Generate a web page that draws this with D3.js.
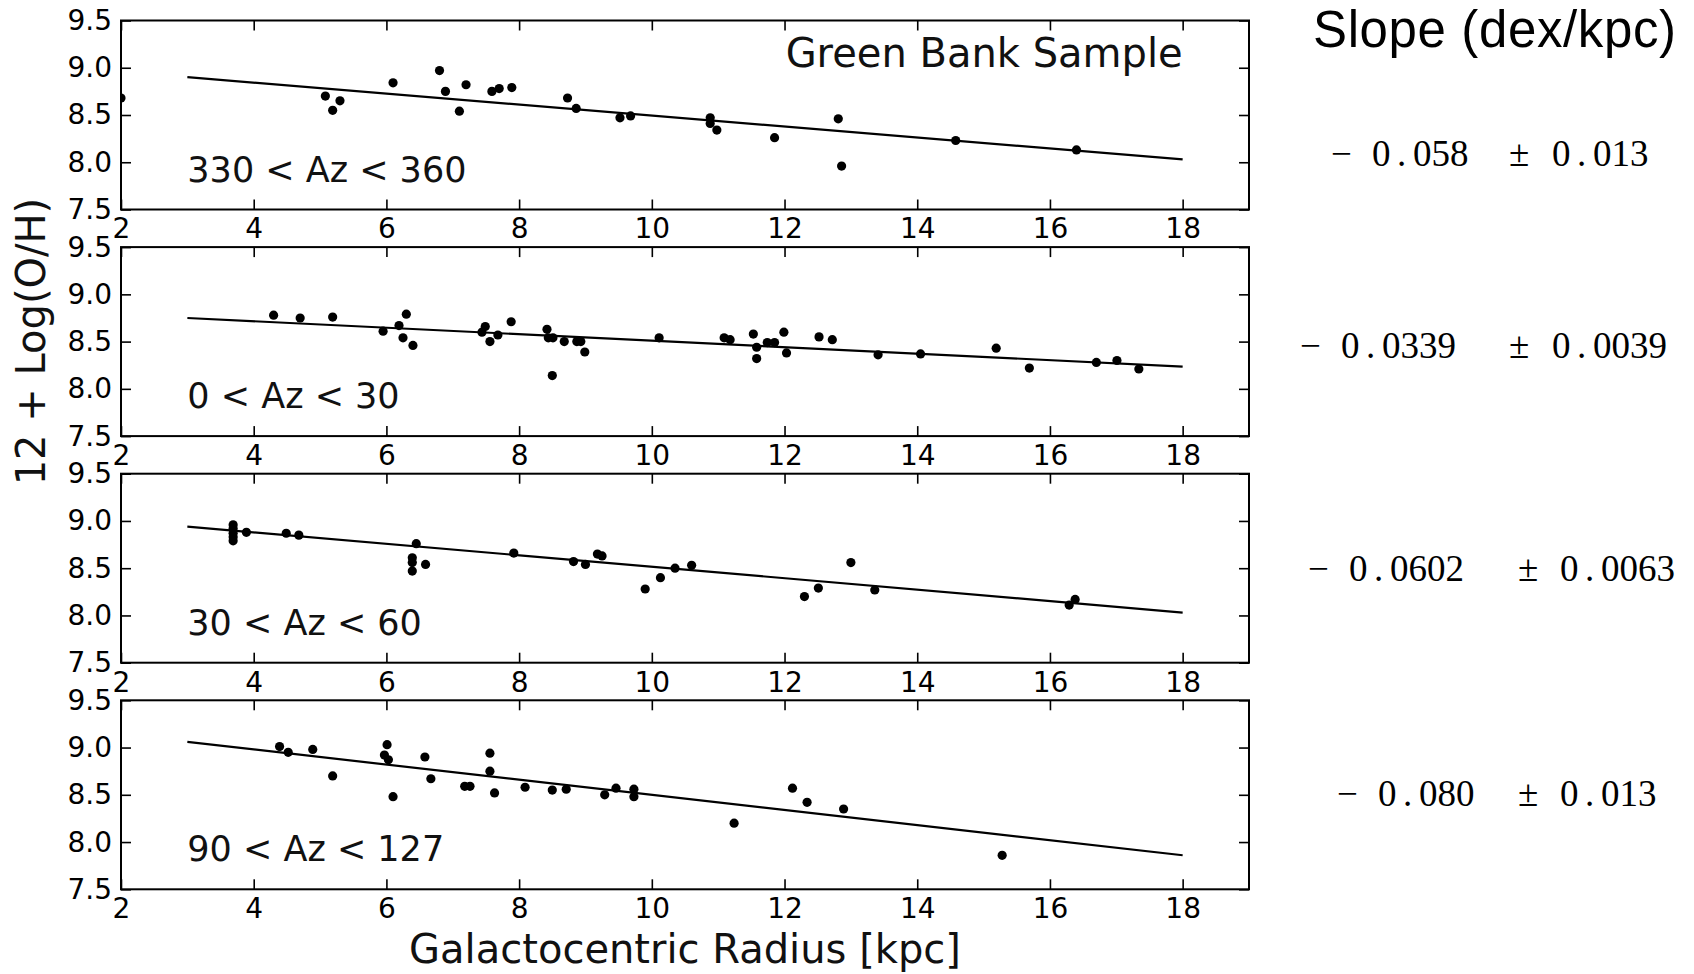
<!DOCTYPE html>
<html>
<head>
<meta charset="utf-8">
<script src="https://cdn.jsdelivr.net/npm/d3@7"></script>
<style>
  html, body { margin: 0; padding: 0; background: #fff; }
  svg { display: block; }
  .tick text { font-family: "DejaVu Sans", sans-serif; }
</style>
</head>
<body>
<script>
// ---------------- DATA ----------------
const xTicks = [2, 4, 6, 8, 10, 12, 14, 16, 18];
const yTicks = [7.5, 8.0, 8.5, 9.0, 9.5];
const panelLabels = ["330 < Az < 360", "0 < Az < 30", "30 < Az < 60", "90 < Az < 127"];
const sampleTitle = "Green Bank Sample";
const xTitle = "Galactocentric Radius [kpc]";
const yTitle = "12 + Log(O/H)";
const slopeTitle = "Slope (dex/kpc)";
const slopeVals = ["0.058", "0.0339", "0.0602", "0.080"];
const slopeErrs = ["0.013", "0.0039", "0.0063", "0.013"];

// Fit lines (endpoints in R, 12+log(O/H))
const fitR = [3, 18];
const fitAz330 = [8.90, 8.03];
const fitAz0 = [8.75, 8.235];
const fitAz30 = [8.94, 8.03];
const fitAz90 = [9.06, 7.86];

// Panel 1: 330 < Az < 360
const az330R  = [2.0, 5.08, 5.19, 5.30, 6.10, 6.80, 6.89, 7.10, 7.20, 7.59, 7.70, 7.89, 8.73, 8.86, 9.52, 9.68,
                 10.88, 10.88, 10.98, 11.85, 12.81, 12.86, 14.58, 16.40];
const az330OH = [8.68, 8.70, 8.55, 8.65, 8.84, 8.97, 8.75, 8.54, 8.82, 8.75, 8.78, 8.79, 8.68, 8.57, 8.47, 8.49,
                 8.47, 8.41, 8.34, 8.26, 8.46, 7.96, 8.23, 8.13];

// Panel 2: 0 < Az < 30
const az0R  = [4.30, 4.70, 5.19, 5.95, 6.19, 6.30, 6.25, 6.40, 7.44, 7.49, 7.56, 7.68, 7.88, 8.42, 8.44, 8.51,
               8.50, 8.68, 8.87, 8.93, 8.99, 10.11, 11.09, 11.18, 11.53, 11.58, 11.58, 11.74, 11.85, 11.99,
               12.03, 12.52, 12.72, 13.41, 14.05, 15.19, 15.69, 16.70, 17.01, 17.34];
const az0OH = [8.78, 8.75, 8.76, 8.61, 8.67, 8.79, 8.54, 8.46, 8.60, 8.66, 8.50, 8.57, 8.71, 8.63, 8.54, 8.54,
               8.14, 8.50, 8.50, 8.50, 8.39, 8.54, 8.54, 8.52, 8.58, 8.44, 8.32, 8.49, 8.49, 8.60,
               8.38, 8.55, 8.52, 8.36, 8.37, 8.43, 8.22, 8.28, 8.30, 8.21];

// Panel 3: 30 < Az < 60
const az30R  = [3.69, 3.69, 3.69, 3.69, 3.69, 3.89, 4.49, 4.68, 6.45, 6.39, 6.39, 6.39, 6.59, 7.92, 8.82, 9.00,
                9.18, 9.25, 9.90, 10.13, 10.35, 10.60, 12.30, 12.51, 13.00, 13.36, 16.29, 16.38];
const az30OH = [8.96, 8.92, 8.87, 8.83, 8.79, 8.88, 8.87, 8.85, 8.76, 8.61, 8.56, 8.47, 8.54, 8.66, 8.57, 8.54,
                8.65, 8.63, 8.28, 8.40, 8.50, 8.53, 8.20, 8.29, 8.56, 8.27, 8.11, 8.17];

// Panel 4: 90 < Az < 127
const az90R  = [4.39, 4.52, 4.89, 5.19, 6.01, 5.97, 6.03, 6.10, 6.58, 6.67, 7.18, 7.26, 7.56, 7.56, 7.63, 8.09,
                8.50, 8.71, 9.29, 9.46, 9.73, 9.73, 11.24, 12.12, 12.34, 12.89, 15.28];
const az90OH = [9.01, 8.95, 8.98, 8.70, 9.03, 8.92, 8.87, 8.48, 8.90, 8.67, 8.59, 8.59, 8.94, 8.75, 8.52, 8.58,
                8.55, 8.56, 8.50, 8.57, 8.56, 8.48, 8.20, 8.57, 8.42, 8.35, 7.86];

const panelR = [az330R, az0R, az30R, az90R];
const panelOH = [az330OH, az0OH, az30OH, az90OH];
const panelFit = [fitAz330, fitAz0, fitAz30, fitAz90];

// ---------------- LAYOUT ----------------
const W = 1694, H = 974;
const plotLeft = 121, plotRight = 1249;
const panelTop0 = 20.5, panelPitch = 226.6, panelH = 189;
const tickLen = 10;

const svg = d3.select("body").append("svg")
  .attr("width", W).attr("height", H)
  .attr("viewBox", `0 0 ${W} ${H}`);

svg.append("rect").attr("width", W).attr("height", H).attr("fill", "#fff");

const x = d3.scaleLinear().domain([2, 19]).range([plotLeft, plotRight]);

for (let i = 0; i < 4; i++) {
  const top = panelTop0 + i * panelPitch;
  const bottom = top + panelH;
  const y = d3.scaleLinear().domain([7.5, 9.5]).range([bottom, top]);
  const g = svg.append("g");

  const clipId = "clip" + i;
  svg.append("clipPath").attr("id", clipId)
    .append("rect")
    .attr("x", x(2)).attr("y", y(9.5))
    .attr("width", x(19) - x(2)).attr("height", y(7.5) - y(9.5));

  // fit line
  const lineData = fitR.map((r, k) => [r, panelFit[i][k]]);
  g.append("path")
    .datum(lineData)
    .attr("d", d3.line().x(d => x(d[0])).y(d => y(d[1])))
    .attr("fill", "none").attr("stroke", "#000").attr("stroke-width", 2.2);

  // points
  const pts = panelR[i].map((r, k) => ({ r: r, oh: panelOH[i][k] }));
  g.append("g").attr("clip-path", `url(#${clipId})`)
    .selectAll("circle").data(pts).join("circle")
    .attr("cx", d => x(d.r)).attr("cy", d => y(d.oh))
    .attr("r", 4.6).attr("fill", "#000");

  // axes
  const axB = g.append("g").attr("transform", `translate(0,${bottom})`)
    .call(d3.axisBottom(x).tickValues(xTicks).tickSize(-tickLen).tickPadding(9)
      .tickFormat(d3.format("d")));
  const axT = g.append("g").attr("transform", `translate(0,${top})`)
    .call(d3.axisTop(x).tickValues(xTicks).tickSize(-tickLen).tickFormat(""));
  const axL = g.append("g").attr("transform", `translate(${plotLeft},0)`)
    .call(d3.axisLeft(y).tickValues(yTicks).tickSize(-tickLen).tickPadding(9)
      .tickFormat(d3.format(".1f")));
  const axR = g.append("g").attr("transform", `translate(${plotRight},0)`)
    .call(d3.axisRight(y).tickValues(yTicks).tickSize(-tickLen).tickFormat(""));

  [axB, axT, axL, axR].forEach(a => {
    a.select(".domain").remove();
    a.selectAll(".tick line").attr("stroke", "#000").attr("stroke-width", 1.6);
    a.selectAll(".tick text").attr("fill", "#000").attr("font-size", 28)
      .attr("font-family", "DejaVu Sans");
  });

  // frame
  g.append("rect")
    .attr("x", x(2)).attr("y", y(9.5))
    .attr("width", x(19) - x(2)).attr("height", y(7.5) - y(9.5))
    .attr("fill", "none").attr("stroke", "#000").attr("stroke-width", 2);

  // panel label
  g.append("text")
    .attr("x", x(3.0)).attr("y", bottom - 28)
    .attr("font-family", "DejaVu Sans").attr("font-size", 35).attr("fill", "#111")
    .text(panelLabels[i]);

  if (i === 0) {
    g.append("text")
      .attr("x", x(18)).attr("y", top + 46.5)
      .attr("text-anchor", "end")
      .attr("font-family", "DejaVu Sans").attr("font-size", 40).attr("fill", "#111")
      .text(sampleTitle);
  }

  if (i === 1) {
    svg.append("text")
      .attr("transform", `translate(45,${(top + bottom) / 2}) rotate(-90)`)
      .attr("text-anchor", "middle")
      .attr("font-family", "DejaVu Sans").attr("font-size", 40).attr("fill", "#111")
      .text(yTitle);
  }

  // slope text (right column)
  const rowBase = [166, 358, 581, 806][i];
  const minusX = [1331, 1300, 1308, 1337][i];
  const valX = [1372, 1341, 1349, 1378][i];
  const pmX = [1509, 1509, 1518, 1518][i];
  const errX = [1552, 1552, 1560, 1560][i];
  const st = svg.append("text")
    .attr("y", rowBase)
    .attr("font-family", "'Liberation Serif', 'Times New Roman', Times, serif")
    .attr("font-size", 37).attr("fill", "#000");
  const splitNum = s => { const p = s.split("."); return [p[0], ".", p[1]]; };
  const v = splitNum(slopeVals[i]);
  const e = splitNum(slopeErrs[i]);
  st.append("tspan").attr("x", minusX).text("\u2212");
  st.append("tspan").attr("x", valX).text(v[0]);
  st.append("tspan").attr("x", valX + 25).text(v[1]);
  st.append("tspan").attr("x", valX + 41).text(v[2]);
  st.append("tspan").attr("x", pmX).text("\u00b1");
  st.append("tspan").attr("x", errX).text(e[0]);
  st.append("tspan").attr("x", errX + 25).text(e[1]);
  st.append("tspan").attr("x", errX + 41).text(e[2]);
}

// x axis title
svg.append("text")
  .attr("x", 685).attr("y", 963)
  .attr("text-anchor", "middle")
  .attr("font-family", "DejaVu Sans").attr("font-size", 40).attr("fill", "#111")
  .text(xTitle);

// slope title
svg.append("text")
  .attr("x", 1313).attr("y", 46.5)
  .attr("font-family", "'Liberation Sans', Arial, sans-serif")
  .attr("font-size", 51).attr("fill", "#000")
  .attr("textLength", 363).attr("lengthAdjust", "spacing")
  .text(slopeTitle);
</script>
</body>
</html>
